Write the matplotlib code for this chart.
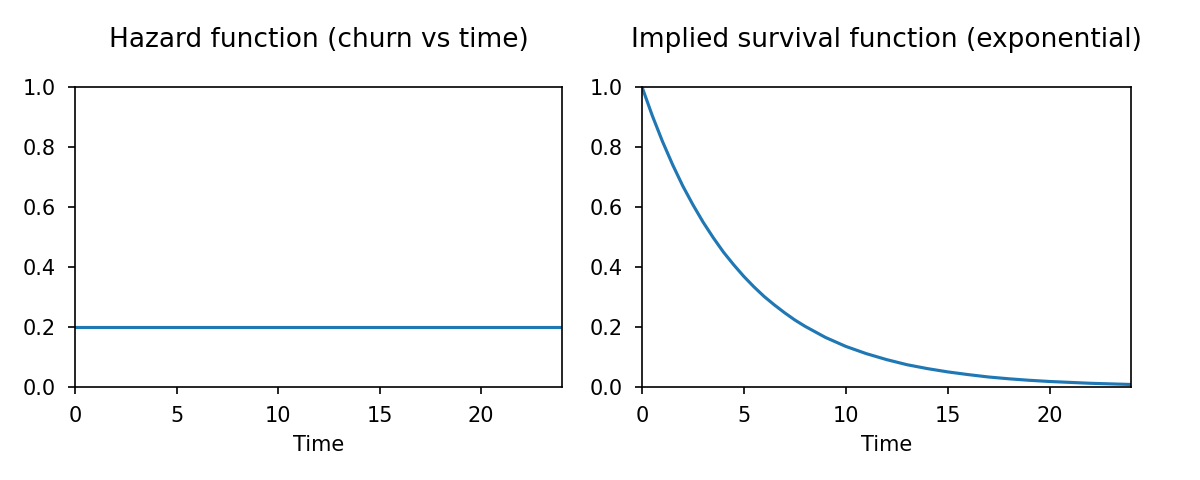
import matplotlib
matplotlib.use("Agg")
import matplotlib.pyplot as plt

# values
months = [0, 0.5, 1, 1.5, 2, 2.5, 3, 3.5, 4, 4.5, 5, 5.5, 6, 6.5, 7, 7.5, 8,
          9, 10, 11, 12, 13, 14, 15, 16, 17, 18, 19, 20, 21, 22, 23, 24]
hazard = [0.2] * len(months)
survival = [1.0, 0.905, 0.819, 0.741, 0.670, 0.607, 0.549, 0.497, 0.449,
            0.407, 0.368, 0.333, 0.301, 0.273, 0.247, 0.223, 0.202,
            0.165, 0.135, 0.111, 0.091, 0.074, 0.061, 0.050, 0.041, 0.033,
            0.027, 0.022, 0.018, 0.015, 0.012, 0.010, 0.008]
titles = ["Hazard function (churn vs time)", "Implied survival function (exponential)"]

fig = plt.figure(figsize=(8, 3.2), dpi=150)
ax1 = fig.add_axes([0.0625, 0.194, 0.406, 0.625])
ax2 = fig.add_axes([0.535, 0.194, 0.4075, 0.625])

for ax, ys, t in zip([ax1, ax2], [hazard, survival], titles):
    ax.plot(months, ys, color="#1f77b4", linewidth=1.5)
    ax.set_xlim(0, 24)
    ax.set_ylim(0, 1)
    ax.set_xticks([0, 5, 10, 15, 20])
    ax.tick_params(axis="both", pad=5.8)
    ax.set_xlabel("Time")
    ax.set_title(t, fontsize=12.7, pad=19)

fig.savefig("out.png", dpi=150)
